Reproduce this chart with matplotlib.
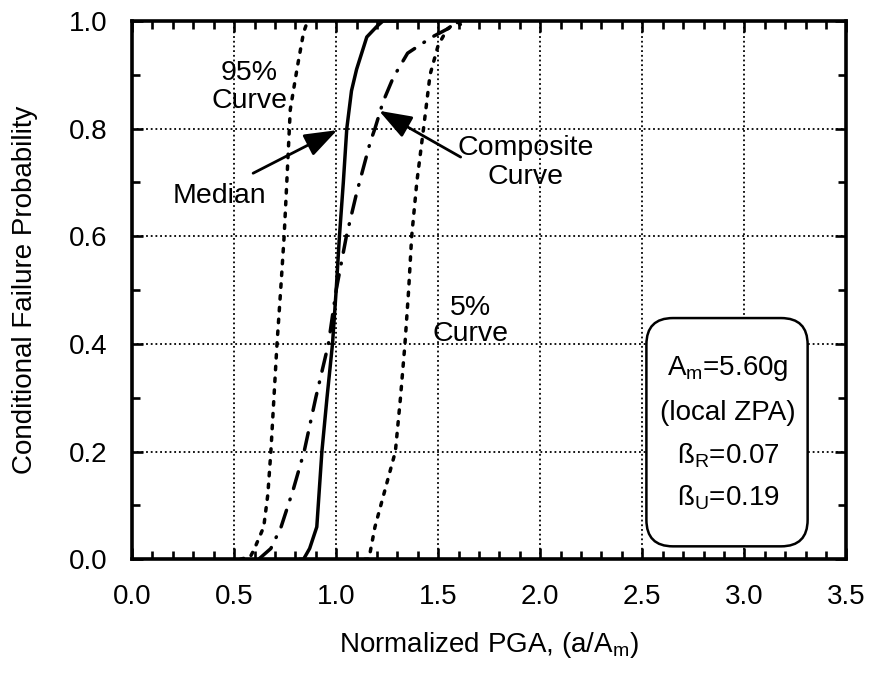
import matplotlib
matplotlib.use("Agg")
import matplotlib.pyplot as plt
from matplotlib.patches import FancyBboxPatch
from matplotlib.ticker import MultipleLocator, FormatStrFormatter

plt.rcParams['font.family'] = ['Liberation Sans', 'DejaVu Sans']
plt.rcParams['mathtext.fontset'] = 'custom'
plt.rcParams['mathtext.rm'] = 'Liberation Sans'
plt.rcParams['mathtext.it'] = 'Liberation Sans'

# ---- data ----
median_x = [0.82, 0.84, 0.87, 0.905, 0.93, 0.955, 0.982, 1.0, 1.016, 1.035, 1.052, 1.075, 1.10, 1.15, 1.20, 1.23, 1.29]
median_y = [0.0, 0.0, 0.02, 0.06, 0.2, 0.30, 0.4, 0.5, 0.6, 0.70, 0.8, 0.87, 0.91, 0.97, 0.99, 1.0, 1.0]

p95_x = [0.53, 0.58, 0.60, 0.645, 0.665, 0.68, 0.695, 0.71, 0.728, 0.745, 0.758, 0.775, 0.81, 0.84, 0.86]
p95_y = [0.0, 0.005, 0.02, 0.06, 0.12, 0.2, 0.3, 0.4, 0.5, 0.6, 0.7, 0.835, 0.915, 0.978, 1.0]

comp_x = [0.62, 0.68, 0.73, 0.79, 0.843, 0.90, 0.962, 1.0, 1.05, 1.10, 1.167, 1.19, 1.23, 1.28, 1.35, 1.47, 1.57, 1.65]
comp_y = [0.0, 0.02, 0.06, 0.13, 0.2, 0.30, 0.4, 0.5, 0.6, 0.68, 0.775, 0.8, 0.85, 0.895, 0.94, 0.97, 0.99, 0.997]

p05_x = [1.14, 1.16, 1.19, 1.24, 1.29, 1.315, 1.337, 1.355, 1.37, 1.395, 1.428, 1.46, 1.50, 1.545, 1.58, 1.62]
p05_y = [0.0, 0.0, 0.06, 0.13, 0.2, 0.3, 0.4, 0.5, 0.6, 0.7, 0.8, 0.9, 0.955, 0.985, 0.995, 1.0]

x_ticks = [0.0, 0.5, 1.0, 1.5, 2.0, 2.5, 3.0, 3.5]
y_ticks = [0.0, 0.2, 0.4, 0.6, 0.8, 1.0]

fig = plt.figure(figsize=(8.69, 6.73), dpi=100)
ax = fig.add_axes([0.152, 0.169, 0.822, 0.800])

lw = 2.5
ax.plot(p95_x, p95_y, color='black', lw=lw, linestyle=(0, (1.0, 2.4)), dash_capstyle='round')
ax.plot(p05_x, p05_y, color='black', lw=lw, linestyle=(0, (1.0, 2.4)), dash_capstyle='round')
ax.plot(median_x, median_y, color='black', lw=lw, solid_capstyle='round')
ax.plot(comp_x, comp_y, color='black', lw=lw, linestyle=(0, (5, 3.2, 0.2, 3.2)), dash_capstyle='round')

ax.set_xlim(0, 3.5)
ax.set_ylim(0, 1.0)
ax.set_xticks(x_ticks)
ax.set_yticks(y_ticks)
ax.xaxis.set_major_formatter(FormatStrFormatter('%.1f'))
ax.yaxis.set_major_formatter(FormatStrFormatter('%.1f'))
ax.xaxis.set_minor_locator(MultipleLocator(0.1))
ax.yaxis.set_minor_locator(MultipleLocator(0.1))
ax.tick_params(which='both', direction='in', top=True, right=True, width=1.9, labelsize=20, pad=18)
ax.tick_params(which='major', length=8)
ax.tick_params(which='minor', length=6)
ax.grid(True, which='major', color='black', linestyle=(0, (1, 1.6)), lw=1.3)
for s in ax.spines.values():
    s.set_linewidth(2.6)

ax.set_xlabel(r'Normalized PGA, (a/A$_{m}$)', fontsize=20, labelpad=14)
ax.set_ylabel('Conditional Failure Probability', fontsize=20, labelpad=22)

fs = 20.5
ax.text(0.575, 0.878, '95%\nCurve', ha='center', va='center', fontsize=fs, linespacing=1.1)
ax.text(0.43, 0.675, 'Median', ha='center', va='center', fontsize=fs)
ax.text(1.93, 0.7375, 'Composite\nCurve', ha='center', va='center', fontsize=fs, linespacing=1.15)
ax.text(1.66, 0.442, '5%\nCurve', ha='center', va='center', fontsize=fs, linespacing=1.0)

arrow = dict(arrowstyle='-|>,head_length=0.5,head_width=0.18', color='black', lw=2.0,
             mutation_scale=40, shrinkA=0, shrinkB=0)
ax.annotate('', xy=(1.005, 0.797), xytext=(0.593, 0.717), arrowprops=arrow)
ax.annotate('', xy=(1.21, 0.833), xytext=(1.61, 0.747), arrowprops=arrow)

box = FancyBboxPatch((2.52, 0.024), 0.79, 0.424,
                     boxstyle='round,pad=0,rounding_size=0.13',
                     mutation_aspect=0.379, facecolor='white', edgecolor='black',
                     lw=1.8, zorder=3)
ax.add_patch(box)
bfs = 20
ax.text(2.92, 0.355, r'A$_{m}$=5.60g', ha='center', va='center', fontsize=bfs, zorder=4)
ax.text(2.92, 0.271, '(local ZPA)', ha='center', va='center', fontsize=bfs, zorder=4)
ax.text(2.92, 0.193, r'ß$_{R}$=0.07', ha='center', va='center', fontsize=bfs, zorder=4)
ax.text(2.92, 0.115, r'ß$_{U}$=0.19', ha='center', va='center', fontsize=bfs, zorder=4)

fig.savefig('out.png', dpi=100)
